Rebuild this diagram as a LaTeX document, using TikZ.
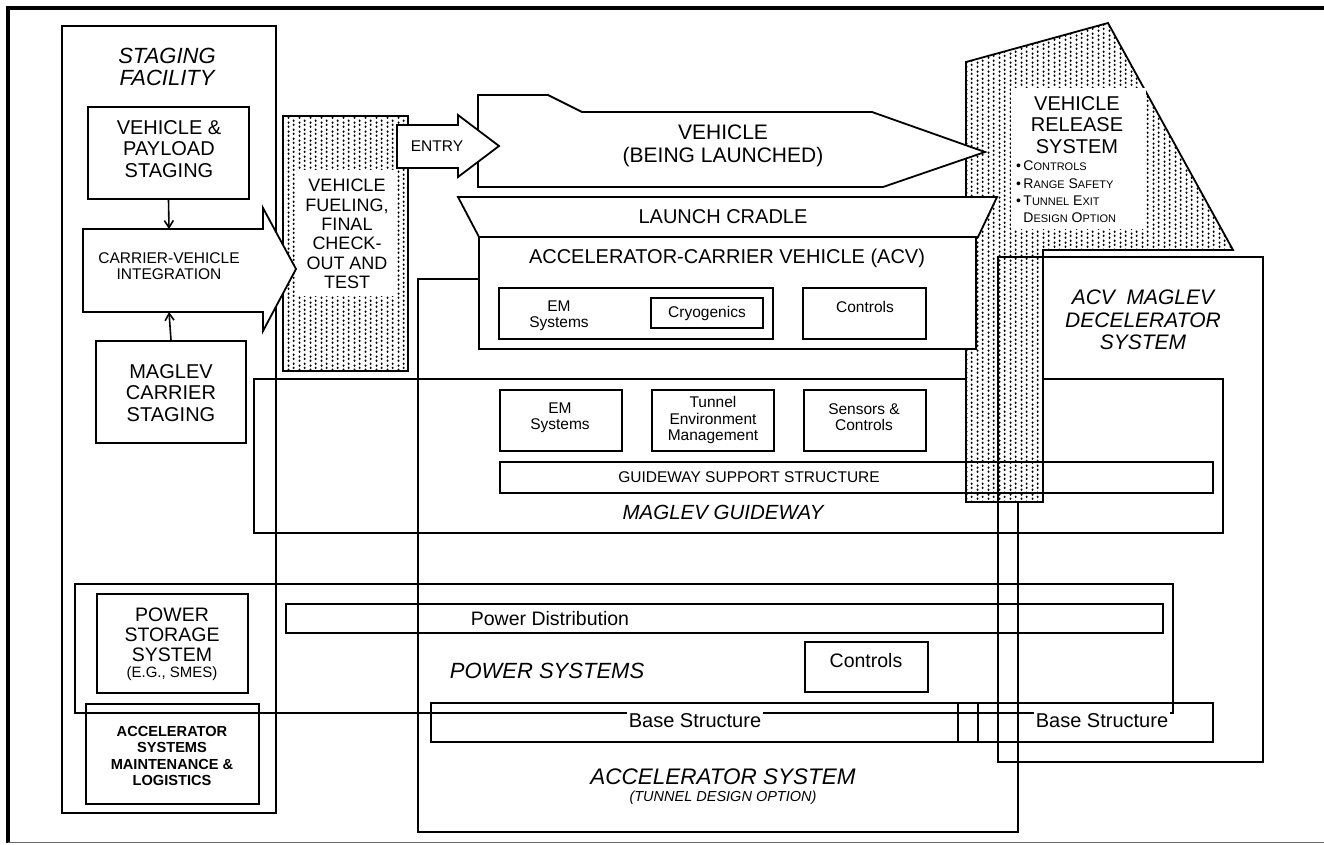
\documentclass[tikz,border=0pt]{standalone}
\usepackage{fontspec}
\setmainfont{Liberation Sans}
\usetikzlibrary{arrows.meta,patterns.meta}
\newcommand\fsz[2]{\fontsize{#1}{#2}\selectfont}
\newcommand\fakesc[2]{{\fsz{14}{17}#1}{\fsz{11}{17}#2}}
\tikzdeclarepattern{
  name=scandots,
  type=uncolored,
  bottom left={(0pt,0pt)},
  top right={(10.6pt,8.6pt)},
  tile size={(10.6pt,8.6pt)},
  code={
    \fill (2.65pt,1.3pt) ellipse [x radius=1.1pt, y radius=1.4pt];
    \fill (2.65pt,5.6pt) ellipse [x radius=1.1pt, y radius=1.4pt];
    \fill (7.95pt,3.3pt) ellipse [x radius=1.1pt, y radius=1.4pt];
    \fill (7.95pt,7.6pt) ellipse [x radius=1.1pt, y radius=1.4pt];
  }
}
\begin{document}
\begin{tikzpicture}[x=1pt,y=-1pt,
  bx/.style={line width=1.8pt},
  mid/.style={line width=2.3pt},
  heavy/.style={line width=2.9pt},
  dotted area/.style={bx, preaction={fill=white}, pattern=scandots, pattern color=black},
  arr/.style={line width=1.6pt, -{Straight Barb[length=7pt,width=9pt]}},
  lbl/.style={inner sep=0pt, align=center, font=\fsz{20}{21.5}},
  sml/.style={inner sep=0pt, align=center, font=\fsz{15.5}{16.5}},
  ital/.style={inner sep=0pt, align=center, font=\itshape\fsz{22}{22}},
  boxnode/.style={draw, bx, inner sep=0pt}
]
\useasboundingbox (0,0) rectangle (1324,844);
\fill[white] (0,0) rectangle (1324,844);

% frame
\draw[line width=3.2pt] (8,843) -- (8,8) -- (1324,8);
\draw[line width=0.9pt, black!60] (8,842.5) -- (1324,842.5);

% large containers
\draw[mid] (62,26) rectangle (276,813);
\node[ital] (stgT) at (167,67) {STAGING\\FACILITY};
\draw[bx] (75,584) rectangle (1173,713);
\draw[bx] (254,379) rectangle (1223,533);
\draw[heavy] (418,279) rectangle (1018,832);

% vehicle release system (dotted)
\draw[dotted area] (966,62) -- (1108,23) -- (1233,250) -- (1043,250) -- (1043,502) -- (966,502) -- cycle;
\fill[white] (1011,88) rectangle (1146,229);
\node[lbl] (relT) at (1077,125) {VEHICLE\\RELEASE\\SYSTEM};
\node[inner sep=0pt, align=left, anchor=west, font=\fsz{14}{17.3}] (relB) at (1016,192)
  {\textbullet\,\fakesc{C}{ONTROLS}\\
   \textbullet\,\fakesc{R}{ANGE} \fakesc{S}{AFETY}\\
   \textbullet\,\fakesc{T}{UNNEL} \fakesc{E}{XIT}\\
   \phantom{\textbullet\,}\fakesc{D}{ESIGN} \fakesc{O}{PTION}};

% fueling (dotted)
\draw[dotted area] (283,116) rectangle (408,371);
\fill[white] (297,170) rectangle (397,296);
\node[inner sep=0pt, align=center, font=\fsz{18}{19.4}] (fuelT) at (347,234)
  {VEHICLE\\FUELING,\\FINAL\\CHECK-\\OUT AND\\TEST};

% staging facility content
\node[boxnode, minimum width=161pt, minimum height=92pt] (vps) at (168.5,153) {};
\node[lbl] (vpsT) at (169,149) {VEHICLE \&\\PAYLOAD\\STAGING};
\draw[bx, fill=white] (83,229) -- (263,229) -- (263,208) -- (296,269) -- (263,331) -- (263,312) -- (83,312) -- cycle;
\coordinate (intN) at (169,229);
\coordinate (intS) at (169,312);
\node[sml] (intT) at (169,266) {CARRIER-VEHICLE\\INTEGRATION};
\node[boxnode, minimum width=150pt, minimum height=102pt] (mcs) at (171,392) {};
\node[lbl] (mcsT) at (171,393) {MAGLEV\\CARRIER\\STAGING};
\draw[arr] (vps.south) -- (intN);
\draw[arr] (mcs.north) -- (intS);

% vehicle and entry
\draw[bx, fill=white] (478,95) -- (548,95) -- (582,112) -- (872,112) -- (985,152) -- (883,187) -- (478,187) -- cycle;
\node[inner sep=0pt, align=center, font=\fsz{21}{23}] (vehT) at (723,146) {VEHICLE\\(BEING LAUNCHED)};
\draw[bx, fill=white] (397,125) -- (458,125) -- (458,115) -- (499,146) -- (458,177) -- (458,168) -- (397,168) -- cycle;
\node[sml] (entryT) at (437,146) {ENTRY};

% cradle and ACV
\draw[bx, fill=white] (458,197) -- (997,197) -- (978,237) -- (479,237) -- cycle;
\node[lbl] (cradT) at (723,217) {LAUNCH CRADLE};
\draw[bx, fill=white] (479,237) rectangle (976,349);
\node[lbl] (acvT) at (727,258) {ACCELERATOR-CARRIER VEHICLE (ACV)};
\draw[bx] (499,288) rectangle (773,339);
\node[sml] (acvEM) at (559,316) {EM\\Systems};
\node[boxnode, line width=2.3pt, minimum width=112pt, minimum height=30pt] (cryo) at (707,313) {};
\node[sml] (cryoT) at (707,313) {Cryogenics};
\draw[bx] (803,288) rectangle (926,339);
\node[sml] (acvC) at (865,307) {Controls};

% guideway content
\draw[bx] (500,390) rectangle (622,451);
\node[sml] (gwEM) at (560,418) {EM\\Systems};
\draw[bx] (652,390) rectangle (774,451);
\node[sml] (gwTun) at (713,420) {Tunnel\\Environment\\Management};
\draw[bx] (804,390) rectangle (926,451);
\node[sml] (gwSen) at (864,417) {Sensors \&\\Controls};
\draw[bx] (500,462) rectangle (1213,493);
\node[sml] (gssT) at (749,477) {GUIDEWAY SUPPORT STRUCTURE};
\node[ital, font=\itshape\fsz{20.5}{22}] (gwT) at (723,512) {MAGLEV GUIDEWAY};

% decelerator
\draw[bx] (998,257) rectangle (1263,762);
\node[ital, font=\itshape\fsz{21}{22.5}] (decT) at (1143,320) {ACV\ \ MAGLEV\\DECELERATOR\\SYSTEM};

% power systems content
\draw[bx] (286,604) rectangle (1163,633);
\node[inner sep=0pt, font=\fsz{19.5}{20}] (pdT) at (550,619) {Power Distribution};
\draw[bx] (805,642) rectangle (928,692);
\node[inner sep=0pt, font=\fsz{19.5}{20}] (pcT) at (866,661) {Controls};
\node[ital] (psysT) at (547,671) {POWER SYSTEMS};
\draw[bx] (431,703) rectangle (1213,742);
\draw[bx] (958,703) -- (958,742);
\draw[bx] (978,703) -- (978,742);
\node[fill=white, inner xsep=2pt, inner ysep=2pt, font=\fsz{20}{20}] (bs1) at (695,721) {Base Structure};
\node[fill=white, inner xsep=2pt, inner ysep=2pt, font=\fsz{20}{20}] (bs2) at (1102,721) {Base Structure};

\draw[bx] (97,594) rectangle (248,693);
\node[inner sep=0pt, align=center, font=\fsz{19.5}{20}] (psT) at (172,635) {POWER\\STORAGE\\SYSTEM};
\node[inner sep=0pt, font=\fsz{15}{16}] (psE) at (172,674) {(E.G., SMES)};
\draw[bx] (86,704) rectangle (259,804);
\node[inner sep=0pt, align=center, font=\bfseries\fsz{14.6}{16.3}] (maintT) at (172,756)
  {ACCELERATOR\\SYSTEMS\\MAINTENANCE \&\\LOGISTICS};

% accelerator system label
\node[ital, font=\itshape\fsz{22.5}{22}] (accT) at (723,777) {ACCELERATOR SYSTEM};
\node[ital, font=\itshape\fsz{14.5}{15}] (accS) at (723,798) {(TUNNEL DESIGN OPTION)};
\end{tikzpicture}
\end{document}
